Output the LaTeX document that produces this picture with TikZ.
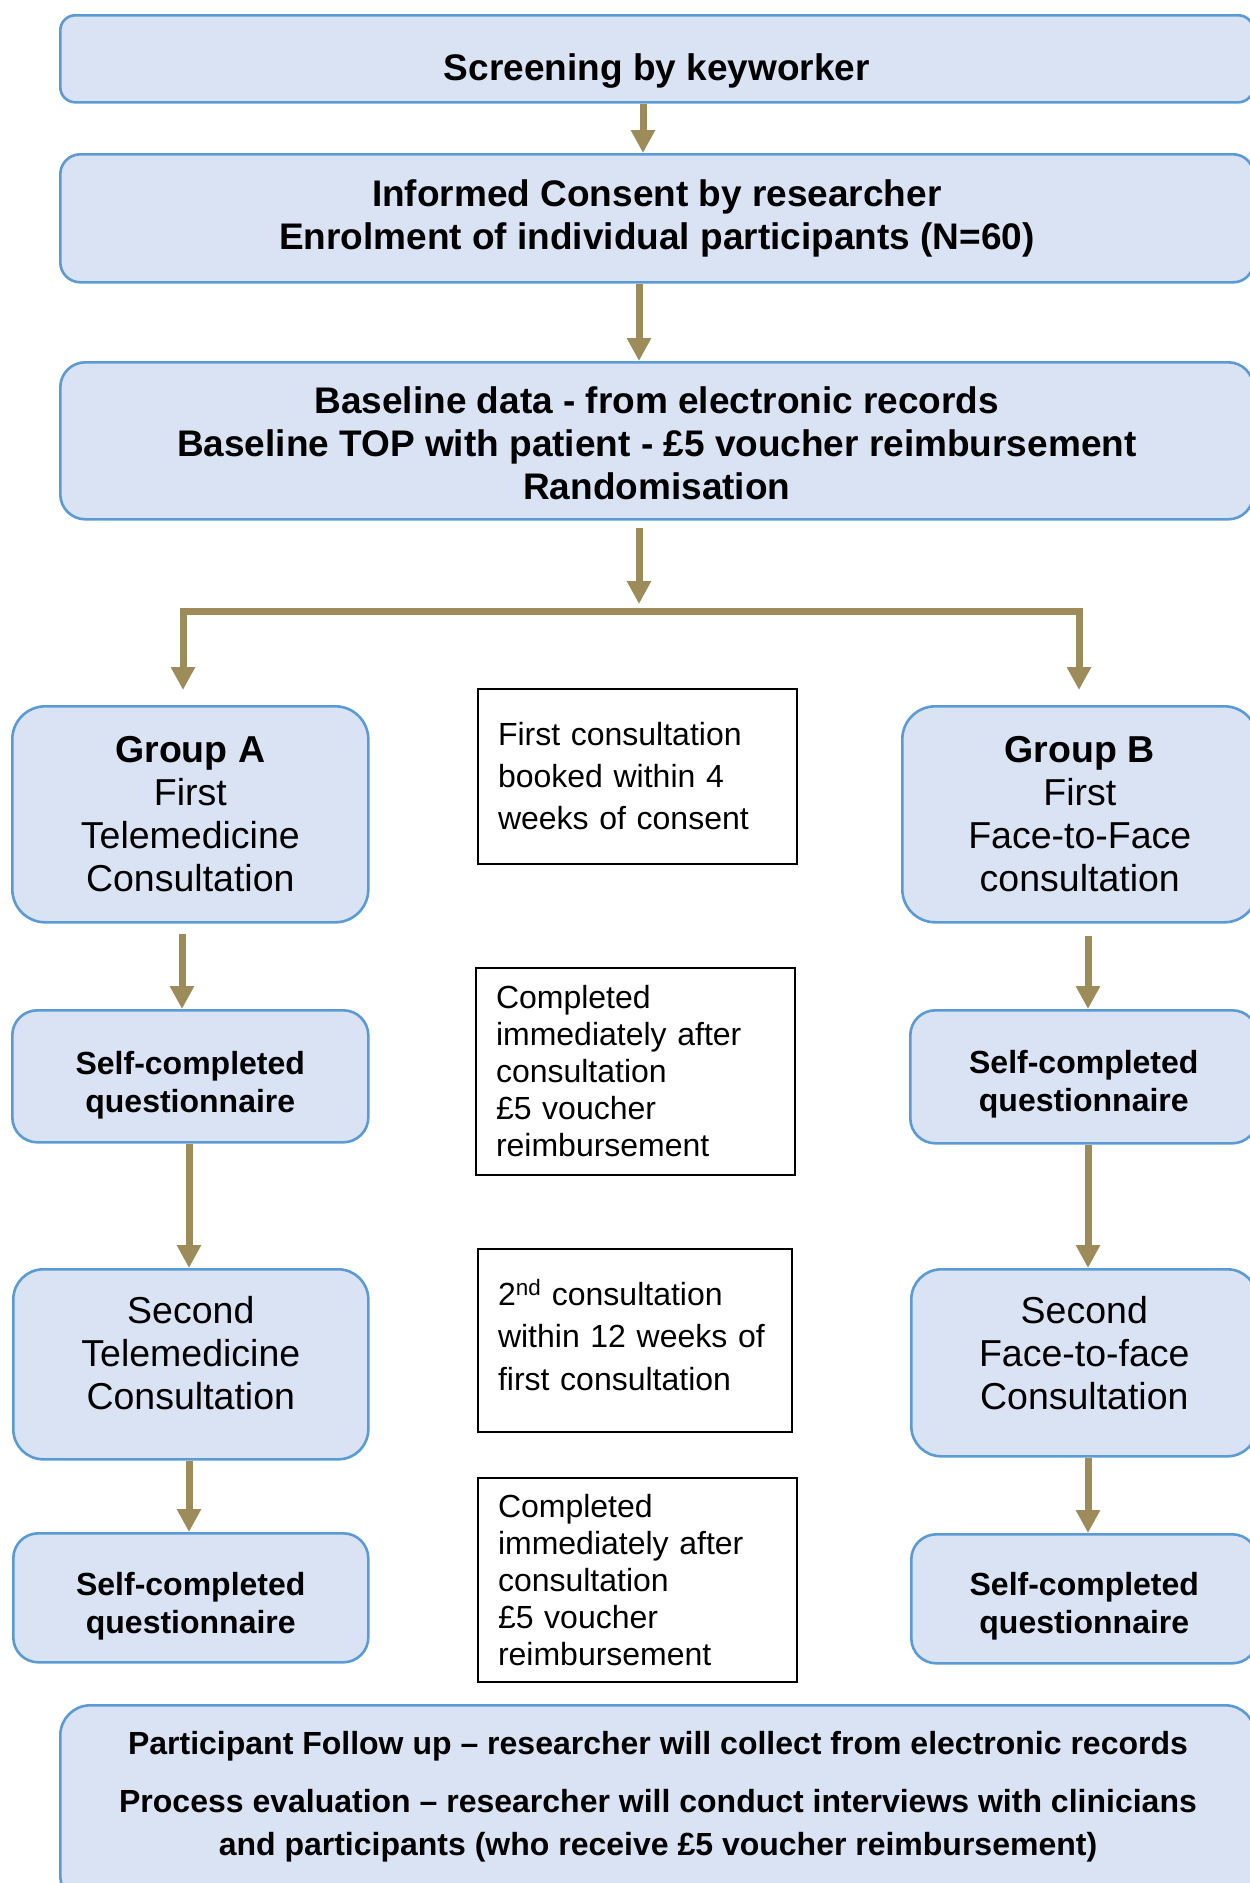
\documentclass[tikz,border=0pt]{standalone}
\usepackage{fontspec}
\setmainfont{Liberation Sans}
\usetikzlibrary{arrows.meta,calc}
\definecolor{boxfill}{HTML}{DAE3F3}
\definecolor{boxline}{HTML}{5B9BD5}
\definecolor{arrcol}{HTML}{9D8B5A}
% move a block of centred lines by #2 without changing its size
\newcommand\mvtext[3][c]{\raisebox{#2}[\height][\depth]{\begin{tabular}{@{}#1@{}}#3\end{tabular}}}
\begin{document}
\begin{tikzpicture}[x=1pt,y=-1pt,
  bluebox/.style={draw=boxline, fill=boxfill, line width=2.6pt, anchor=north west, inner sep=0pt, align=center},
  notebox/.style={draw=black, line width=2pt, anchor=north west, inner xsep=20pt, inner ysep=0pt, align=left},
  flow/.style={draw=arrcol, line width=7pt, -{Triangle[length=23pt,width=23pt]}},
  flowboth/.style={draw=arrcol, line width=7pt, {Triangle[length=23pt,width=23pt]}-{Triangle[length=23pt,width=23pt]}},
  bigb/.style={font=\fontsize{37}{43}\selectfont\bfseries},
  bigr/.style={font=\fontsize{37.5}{43}\selectfont},
  selfb/.style={font=\fontsize{32}{38}\selectfont\bfseries},
]
\useasboundingbox (0,0) rectangle (1250,1883);

% top boxes
\node[bluebox, bigb, rounded corners=15pt, minimum width=1193pt, minimum height=87pt] (s1) at (59,14)
  {\mvtext{-13pt}{Screening by keyworker}};
\node[bluebox, bigb, rounded corners=20pt, minimum width=1193pt, minimum height=128pt] (s2) at (59,153)
  {Informed Consent by researcher\\Enrolment of individual participants (N=60)};
\node[bluebox, bigb, rounded corners=25pt, minimum width=1193pt, minimum height=157pt] (s3) at (59,361)
  {\mvtext{-7.5pt}{Baseline data - from electronic records\\Baseline TOP with patient - £5 voucher reimbursement\\Randomisation}};

% groups
\node[bluebox, bigr, rounded corners=33pt, minimum width=356pt, minimum height=216pt] (gA) at (11,705)
  {\textbf{Group A}\\First\\Telemedicine\\Consultation};
\node[bluebox, bigr, rounded corners=33pt, minimum width=355pt, minimum height=216pt] (gB) at (901,705)
  {\textbf{Group B}\\First\\Face-to-Face\\consultation};

\node[bluebox, selfb, rounded corners=25pt, minimum width=356pt, minimum height=132pt] (qA1) at (11,1009)
  {\mvtext{-9.5pt}{Self-completed\\questionnaire}};
\node[bluebox, selfb, rounded corners=25pt, minimum width=347pt, minimum height=133pt] (qB1) at (909,1009)
  {\mvtext{-8pt}{Self-completed\\questionnaire}};

\node[bluebox, bigr, rounded corners=30pt, minimum width=355pt, minimum height=190pt] (tA) at (12,1268)
  {\mvtext{6pt}{Second\\Telemedicine\\Consultation}};
\node[bluebox, bigr, rounded corners=30pt, minimum width=346pt, minimum height=187pt] (tB) at (910,1268)
  {\mvtext{5pt}{Second\\Face-to-face\\Consultation}};

\node[bluebox, selfb, rounded corners=25pt, minimum width=355pt, minimum height=129pt] (qA2) at (12,1532)
  {\mvtext{-9pt}{Self-completed\\questionnaire}};
\node[bluebox, selfb, rounded corners=25pt, minimum width=346pt, minimum height=129pt] (qB2) at (910,1533)
  {\mvtext{-8pt}{Self-completed\\questionnaire}};

% follow up
\node[bluebox, rounded corners=30pt, minimum width=1195pt, minimum height=200pt] (fu) at (59,1704) {};
\node[font=\fontsize{32}{43}\selectfont\bfseries, align=center, inner sep=0pt] (fut) at (658,1797)
  {Participant Follow up -- researcher will collect from electronic records\\[15pt]
   Process evaluation -- researcher will conduct interviews with clinicians\\
   and participants (who receive £5 voucher reimbursement)};

% notes
\node[notebox, font=\fontsize{32}{42}\selectfont, text width=279pt, minimum height=175pt] (n1) at (477,688)
  {First consultation\\booked within 4\\weeks of consent};
\node[notebox, font=\fontsize{32}{37}\selectfont, text width=279pt, minimum height=207pt] (n2) at (475,967)
  {Completed\\immediately after\\consultation\\£5 voucher\\reimbursement};
\node[notebox, font=\fontsize{32}{42.5}\selectfont, text width=274pt, minimum height=183pt] (n3) at (477,1248)
  {\mvtext[l]{1.5pt}{2\textsuperscript{nd} consultation\\within 12 weeks of\\first consultation}};
\node[notebox, font=\fontsize{32}{37}\selectfont, text width=279pt, minimum height=204pt] (n4) at (477,1477)
  {Completed\\immediately after\\consultation\\£5 voucher\\reimbursement};

% connectors
\coordinate (x1) at (643,0);
\coordinate (x2) at (639,0);
\coordinate (br) at (639,611);
\coordinate (xl) at (183,0);
\coordinate (xr) at (1079,0);
\coordinate (xa1) at (182,0);
\coordinate (xa) at (189,0);
\coordinate (xb) at (1088,0);

\draw[flow] (s1.south -| x1) -- (s2.north -| x1);
\draw[flow] (s2.south -| x2) -- (s3.north -| x2);
\draw[flow, shorten <=7pt, shorten >=7pt] (s3.south -| x2) -- (br);
\draw[flowboth, shorten <=15pt, shorten >=15pt] (gA.north -| xl) |- (br) -| (gB.north -| xr);

\draw[flow, shorten <=10pt] (gA.south -| xa1) -- (qA1.north -| xa1);
\draw[flow] (qA1.south -| xa) -- (tA.north -| xa);
\draw[flow] (tA.south -| xa) -- (qA2.north -| xa);

\draw[flow, shorten <=12pt] (gB.south -| xb) -- (qB1.north -| xb);
\draw[flow] (qB1.south -| xb) -- (tB.north -| xb);
\draw[flow] (tB.south -| xb) -- (qB2.north -| xb);
\end{tikzpicture}
\end{document}
